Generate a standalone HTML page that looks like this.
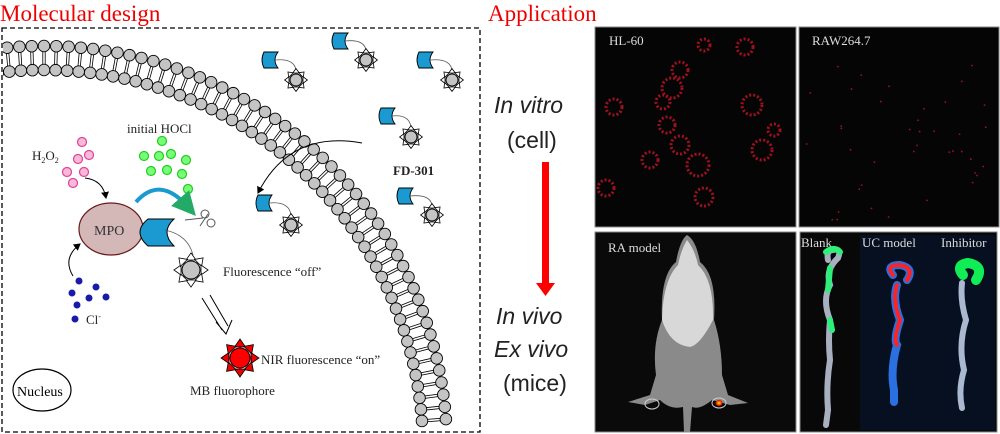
<!DOCTYPE html>
<html><head><meta charset="utf-8"><style>
html,body{margin:0;padding:0;background:#fff;width:1000px;height:434px;overflow:hidden;}
svg{display:block;overflow:hidden;}
</style></head><body>
<svg id="s" width="1000" height="434" viewBox="0 0 1000 434" xmlns="http://www.w3.org/2000/svg">
<defs>
<marker id="ah" markerWidth="8" markerHeight="8" refX="6" refY="4" orient="auto"><path d="M0,0 L7,4 L0,8 z" fill="#000"/></marker>
<marker id="ahg" markerWidth="6" markerHeight="6" refX="3" refY="3" orient="auto"><path d="M0,0 L6,3 L0,6 z" fill="#22aa66"/></marker>
<radialGradient id="hot"><stop offset="0" stop-color="#ff0"/><stop offset="0.5" stop-color="#f60"/><stop offset="1" stop-color="#c00"/></radialGradient>
<clipPath id="bx"><rect x="3" y="29" width="476" height="402"/></clipPath>
</defs>
<text x="0" y="21" font-family="Liberation Serif,serif" font-size="23" fill="#e00">Molecular design</text>
<text x="488" y="21" font-family="Liberation Serif,serif" font-size="23" fill="#e00">Application</text>
<g id="mem" clip-path="url(#bx)"></g>
<rect x="2" y="28" width="478" height="404" fill="none" stroke="#000" stroke-width="1.3" stroke-dasharray="5,3"/>
<g id="probes"></g>
<g fill="#f8b8d8" stroke="#e0409a" stroke-width="1.2">
<circle cx="82" cy="142" r="4.5"/><circle cx="78" cy="159" r="4.5"/><circle cx="89" cy="155" r="4.5"/><circle cx="67" cy="172" r="4.5"/><circle cx="84" cy="172" r="4.5"/><circle cx="73" cy="183" r="4.5"/>
</g>
<g fill="#7f7" stroke="#2c2" stroke-width="1.2">
<circle cx="162" cy="141" r="4.5"/><circle cx="144" cy="156" r="4.5"/><circle cx="159" cy="156" r="4.5"/><circle cx="171" cy="154" r="4.5"/><circle cx="186" cy="160" r="4.5"/><circle cx="151" cy="171" r="4.5"/><circle cx="167" cy="170" r="4.5"/><circle cx="182" cy="174" r="4.5"/><circle cx="188" cy="189" r="4.5"/>
</g>
<g fill="#1a1aaa">
<circle cx="79" cy="281" r="3.5"/><circle cx="96" cy="287" r="3.5"/><circle cx="72" cy="293" r="3.5"/><circle cx="89" cy="298" r="3.5"/><circle cx="106" cy="297" r="3.5"/><circle cx="77" cy="305" r="3.5"/><circle cx="75" cy="319" r="3.5"/>
</g>
<g font-family="Liberation Serif,serif" font-size="13" fill="#222">
<text x="32" y="160">H<tspan font-size="8" dy="3">2</tspan><tspan dy="-3">O</tspan><tspan font-size="8" dy="3">2</tspan></text>
<text x="127" y="133">initial HOCl</text>
<text x="86" y="324">Cl<tspan font-size="8" dy="-5">-</tspan></text>
<text x="393" y="175" font-weight="bold">FD-301</text>
<text x="223" y="276">Fluorescence “off”</text>
<text x="261" y="364">NIR fluorescence “on”</text>
<text x="190" y="395">MB fluorophore</text>
</g>
<path d="M85,178 Q103,180 106,198" fill="none" stroke="#000" stroke-width="1" marker-end="url(#ah)"/>
<path d="M73,276 Q62,258 80,244" fill="none" stroke="#000" stroke-width="1" marker-end="url(#ah)"/>
<path d="M362,143 Q290,130 258,193" fill="none" stroke="#000" stroke-width="1" marker-end="url(#ah)"/>
<path d="M136,202 Q160,175 188,207" fill="none" stroke="#1a9ad0" stroke-width="4" marker-end="url(#ahg)"/>
<ellipse cx="111" cy="229" rx="32" ry="26" fill="#d4b8b8" stroke="#6b1a1a" stroke-width="1.2"/>
<text x="94" y="235" font-family="Liberation Serif,serif" font-size="14" fill="#333">MPO</text>
<path d="M148,219 L174,219 Q160,232 174,246 L148,246 Q132,232 148,219 z" fill="#1a9ad0" stroke="#000" stroke-width="1"/>
<path d="M165,230 Q188,235 193,255" fill="none" stroke="#555" stroke-width="0.8"/>
<g stroke="#555" fill="none" stroke-width="1"><circle cx="205" cy="214" r="4"/><circle cx="211" cy="223" r="4"/><path d="M200,226 L208,214 M185,220 L203,218"/></g>
<path d="M202,298 L222,330 M210,295 L228,326 M216,322 L226,334 L232,320" fill="none" stroke="#000" stroke-width="1"/>
<g id="bigs"></g>
<ellipse cx="42" cy="390" rx="29" ry="21" fill="#fff" stroke="#000" stroke-width="1.2"/>
<text x="17" y="396" font-family="Liberation Serif,serif" font-size="14">Nucleus</text>
<g font-family="Liberation Sans,sans-serif" font-size="23" fill="#222">
<text x="494" y="113" font-style="italic">In vitro</text>
<text x="507" y="148">(cell)</text>
<text x="496" y="324" font-style="italic">In vivo</text>
<text x="494" y="357" font-style="italic">Ex vivo</text>
<text x="503" y="391">(mice)</text>
</g>
<rect x="542" y="162" width="7" height="122" fill="#f00"/>
<path d="M536,283 L555,283 L545.5,296 z" fill="#f00"/>
<rect x="595" y="27" width="201" height="200" fill="#050505" stroke="#888"/>
<rect x="799" y="27" width="200" height="200" fill="#050505" stroke="#888"/>
<rect x="595" y="232" width="201" height="200" fill="#0a0a0a" stroke="#888"/>
<rect x="800" y="232" width="197" height="200" fill="#080808" stroke="#888"/>
<rect x="860" y="235" width="135" height="195" fill="#061020"/>
<g id="cells" fill="none" stroke="#a01020" stroke-width="3" stroke-dasharray="2,2"></g>
<g fill="#ddd" font-family="Liberation Serif,serif" font-size="13">
<text x="609" y="45">HL-60</text><text x="812" y="45">RAW264.7</text>
<text x="608" y="252">RA model</text>
<text x="801" y="247">Blank</text><text x="862" y="247">UC model</text><text x="941" y="247">Inhibitor</text>
</g>
<path d="M687,235 Q696,240 700,262 Q717,275 714,320 Q722,345 722,375 L728,395 L748,403 L730,405 L712,400 Q700,410 692,407 L690,432 L684,432 L683,407 Q670,410 660,400 L645,405 L628,402 L650,395 L656,375 Q652,345 662,320 Q660,275 676,262 Q680,240 687,235 z" fill="#8a8a8a"/>
<path d="M687,240 Q695,250 698,265 Q714,280 713,320 Q700,345 690,347 Q670,345 662,320 Q663,280 678,265 Q681,250 687,240 z" fill="#d8d8d8"/>
<ellipse cx="652" cy="404" rx="7" ry="5" fill="none" stroke="#ccc"/>
<ellipse cx="719" cy="403" rx="7" ry="5" fill="none" stroke="#ccc"/>
<ellipse cx="719" cy="403" rx="3.5" ry="3" fill="url(#hot)"/>
<g fill="none" stroke-linecap="round">
<path d="M828,260 Q826,250 833,250 Q842,248 838,258 Q825,270 830,285 Q822,300 830,320 Q828,340 830,360 Q826,385 828,410 L826,425" stroke="#a8b0c0" stroke-width="6"/>
<path d="M826,252 Q834,246 840,252 M830,268 L828,290 M830,320 L832,330" stroke="#2cf07a" stroke-width="6"/>
<path d="M893,275 Q885,265 900,265 Q915,268 907,280 M897,285 Q892,300 900,320 Q893,340 897,345 Q890,370 894,390 L894,402" stroke="#2a70e0" stroke-width="8"/>
<path d="M893,275 Q885,265 900,265 Q915,268 907,280 M897,285 Q892,300 900,320 Q893,340 897,345" stroke="#f22" stroke-width="4"/>
<path d="M963,275 Q955,265 968,263 Q985,266 976,280" stroke="#1e5" stroke-width="10"/>
<path d="M962,283 Q960,300 966,320 Q958,345 964,370 Q958,390 962,408" stroke="#aab8d0" stroke-width="6"/>
</g>
</svg>
<script>
var NS="http://www.w3.org/2000/svg";
function el(p,t,a){var e=document.createElementNS(NS,t);for(var k in a)e.setAttribute(k,a[k]);p.appendChild(e);return e;}
var mem=document.getElementById('mem');
var cx=44,cy=449,Ro=403,Ri=379;
for(var a=263;a<=360;a+=1.75){var r=a*Math.PI/180,c=Math.cos(r),s=Math.sin(r);
 var x1=cx+Ro*c,y1=cy+Ro*s,x2=cx+Ri*c,y2=cy+Ri*s;
 if(y1>430||y2>430)continue;
 var px=-s*1.2,py=c*1.2;
 el(mem,'line',{x1:x1+px,y1:y1+py,x2:x2+px,y2:y2+py,stroke:'#000','stroke-width':0.8});
 el(mem,'line',{x1:x1-px,y1:y1-py,x2:x2-px,y2:y2-py,stroke:'#000','stroke-width':0.8});
 el(mem,'circle',{cx:x1,cy:y1,r:5.8,fill:'#c4c4c4',stroke:'#000','stroke-width':0.9});
 el(mem,'circle',{cx:x2,cy:y2,r:5.8,fill:'#c4c4c4',stroke:'#000','stroke-width':0.9});
}
function star(g,x,y,r,fill,tri){
 for(var i=0;i<8;i++){var a=i*Math.PI/4-Math.PI/2,c=Math.cos(a),s=Math.sin(a),b=r+1,t=r*1.9,w=r*0.55;
  el(g,'path',{d:'M'+(x+b*c-w*s)+','+(y+b*s+w*c)+' L'+(x+t*c)+','+(y+t*s)+' L'+(x+b*c+w*s)+','+(y+b*s-w*c)+'z',fill:tri,stroke:'#000','stroke-width':0.8});}
 el(g,'circle',{cx:x,cy:y,r:r,fill:fill,stroke:'#000','stroke-width':1});
}
var pg=document.getElementById('probes');
[[260,52,296,80],[330,33,366,60],[415,52,452,80],[377,108,411,137],[395,188,432,215],[254,195,291,225]].forEach(function(p){
 var x=p[0],y=p[1];
 el(pg,'path',{d:'M'+(x+4)+','+y+' L'+(x+18)+','+y+' Q'+(x+12)+','+(y+8)+' '+(x+18)+','+(y+16)+' L'+(x+4)+','+(y+16)+' Q'+x+','+(y+8)+' '+(x+4)+','+y+'z',fill:'#1a9ad0',stroke:'#000','stroke-width':0.9});
 el(pg,'path',{d:'M'+(x+15)+','+(y+8)+' Q'+(p[2]-2)+','+(y+6)+' '+p[2]+','+(p[3]-10),fill:'none',stroke:'#555','stroke-width':0.8});
 star(pg,p[2],p[3],6,'#c4c4c4','#fff');
});
var bg=document.getElementById('bigs');
star(bg,191,270,9,'#c4c4c4','#fff');
star(bg,240,358,10,'#f00','#e00');
var cg=document.getElementById('cells');
[[672,88,10],[614,107,8],[663,102,7],[667,125,8],[680,145,9],[698,165,11],[704,197,9],[650,160,8],[606,188,8],[752,105,10],[762,150,10],[745,47,8],[704,45,6],[680,70,8],[774,130,6]].forEach(function(c){el(cg,'circle',{cx:c[0],cy:c[1],r:c[2]});});
var sg=document.getElementById('s');
for(var i=0;i<40;i++){el(sg,'circle',{cx:805+Math.random()*190,cy:55+Math.random()*165,r:0.9,fill:'#a01020'});}
</script>
</body></html>
